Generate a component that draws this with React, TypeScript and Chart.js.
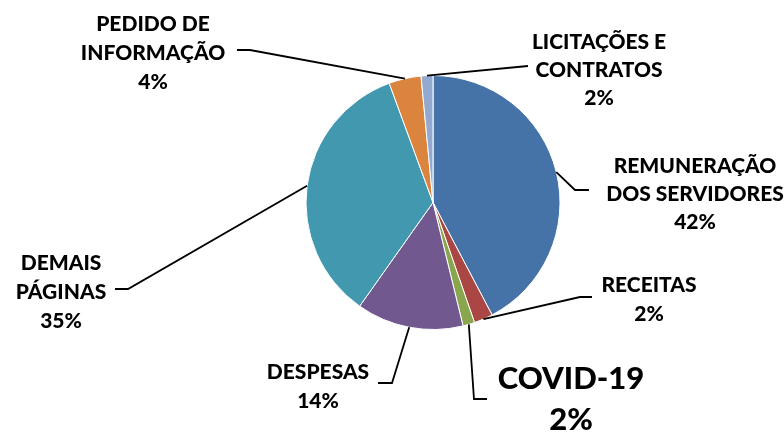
import React, { useEffect, useRef } from "react";
import { Chart, registerables } from "chart.js";

Chart.register(...registerables);

const categories: string[][] = [
  ["REMUNERAÇÃO", "DOS SERVIDORES"],
  ["RECEITAS"],
  ["COVID-19"],
  ["DESPESAS"],
  ["DEMAIS", "PÁGINAS"],
  ["PEDIDO DE", "INFORMAÇÃO"],
  ["LICITAÇÕES E", "CONTRATOS"],
];
const values: number[] = [423, 24, 15, 136, 346, 41, 15];
const colors: string[] = ["#4572A7", "#AA4643", "#89A54E", "#71588F", "#4198AF", "#DB843D", "#93A9CF"];

// label layout: centre x, first line y (cap centre), line height, font size, leader elbow & end
const labelLayout = [
  { cx: 695, y: 165, lh: 28, fs: 21, elbow: [575, 190], end: [589, 190] },
  { cx: 649, y: 284, lh: 29, fs: 21, elbow: [580, 297], end: [592, 297] },
  { cx: 571, y: 378, lh: 41, fs: 31, elbow: [474, 399], end: [487, 399] },
  { cx: 318, y: 371, lh: 29, fs: 21, elbow: [392, 383], end: [378, 383] },
  { cx: 61, y: 262, lh: 29, fs: 21, elbow: [128, 289], end: [115, 289] },
  { cx: 153, y: 23, lh: 29, fs: 21, elbow: [250, 50], end: [237, 50] },
  { cx: 599, y: 41, lh: 28, fs: 21, elbow: [528, 66], end: [528, 66] },
];

const labelPlugin = {
  id: "leaderLabels",
  afterDatasetsDraw(chart: any) {
    const ctx = chart.ctx;
    const meta = chart.getDatasetMeta(0);
    const total = values.reduce((a, b) => a + b, 0);
    ctx.save();
    meta.data.forEach((arc: any, i: number) => {
      const L = labelLayout[i];
      const mid = (arc.startAngle + arc.endAngle) / 2;
      const px = arc.x + Math.cos(mid) * arc.outerRadius;
      const py = arc.y + Math.sin(mid) * arc.outerRadius;
      ctx.strokeStyle = "#000";
      ctx.lineWidth = 1.8;
      ctx.beginPath();
      ctx.moveTo(px, py);
      ctx.lineTo(L.elbow[0], L.elbow[1]);
      ctx.lineTo(L.end[0], L.end[1]);
      ctx.stroke();
      const pct = Math.round((values[i] * 100) / total) + "%";
      const lines = [...categories[i], pct];
      ctx.fillStyle = "#000";
      ctx.textAlign = "center";
      ctx.textBaseline = "alphabetic";
      ctx.font = `900 ${L.fs}px Lato`;
      lines.forEach((t, k) => {
        ctx.fillText(t, L.cx, L.y + k * L.lh + L.fs * 0.36);
      });
    });
    ctx.restore();
  },
};

export default function App() {
  const ref = useRef<HTMLCanvasElement>(null);
  useEffect(() => {
    const chart = new Chart(ref.current!, {
      type: "pie",
      data: {
        labels: categories.map((c) => c.join(" ")),
        datasets: [
          {
            data: values,
            backgroundColor: colors,
            borderColor: "#ffffff",
            borderWidth: 1,
          },
        ],
      },
      options: {
        responsive: false,
        animation: false,
        layout: { padding: { left: 305, right: 223, top: 75, bottom: 105 } },
        plugins: { legend: { display: false }, tooltip: { enabled: false } },
      },
      plugins: [labelPlugin],
    });
    return () => chart.destroy();
  }, []);
  return (
    <div style={{ position: "fixed", left: 0, top: 0, width: 784, height: 435, background: "#fff" }}>
      <canvas ref={ref} width={784} height={435} />
    </div>
  );
}
